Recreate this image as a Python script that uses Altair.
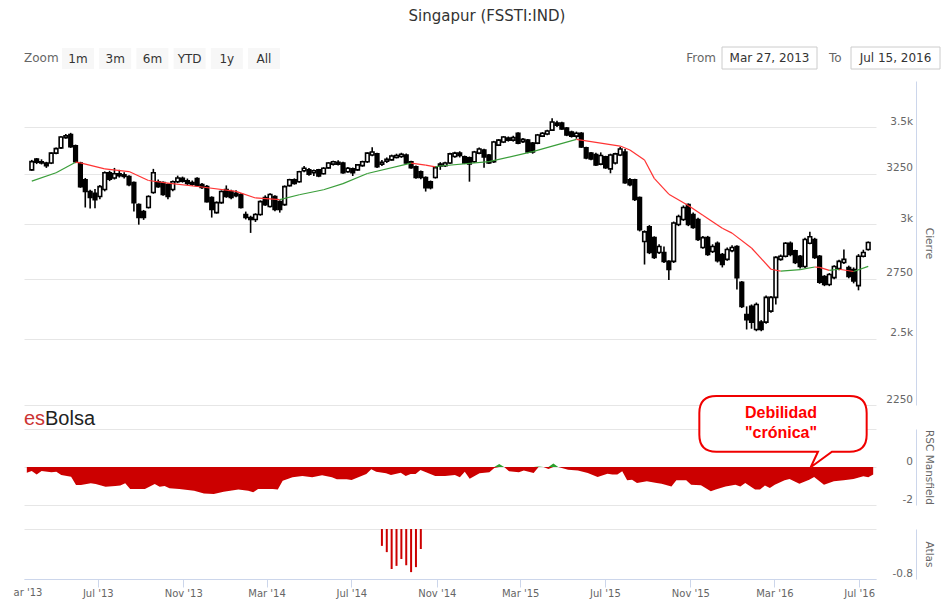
import altair as alt
import pandas as pd

TITLE = "Singapur (FSSTI:IND)"
FIRST_WEEK = "2013-03-28"

OPEN = [3270,3327,3312,3305,3306,3358,3386,3442,3458,3398,
3306,3219,3159,3150,3134,3169,3255,3228,3250,3244,
3235,3204,3094,3060,3080,3154,3209,3204,3194,3169,
3209,3226,3214,3205,3225,3194,3184,3129,3055,3104,
3169,3159,3150,3144,3046,3031,3022,3046,3129,3085,
3134,3109,3094,3189,3219,3209,3265,3270,3255,3270,
3250,3280,3300,3310,3306,3260,3275,3270,3292,3312,
3348,3354,3300,3315,3322,3335,3340,3348,3312,3286,
3260,3230,3209,3230,3290,3292,3306,3340,3358,3338,
3333,3312,3358,3375,3348,3312,3401,3418,3440,3428,
3466,3420,3428,3412,3412,3450,3462,3483,3522,3522,
3494,3472,3450,3466,3386,3358,3350,3300,3338,3275,
3306,3348,3364,3219,3219,3129,2918,2987,2936,2867,
2867,2827,2827,2998,3022,3094,3046,3022,2890,2936,
2872,2910,2858,2836,2875,2895,2735,2598,2632,2537,
2567,2567,2612,2670,2836,2850,2910,2875,2850,2804,
2910,2927,2850,2760,2725,2755,2795,2822,2800,2791,
2720,2850,2881]

HIGH = [3322,3332,3325,3312,3362,3388,3450,3462,3468,3404,
3312,3228,3168,3172,3192,3262,3265,3280,3270,3258,
3242,3210,3100,3068,3140,3275,3220,3210,3200,3215,
3240,3235,3225,3215,3232,3202,3192,3135,3110,3165,
3190,3168,3165,3150,3060,3040,3052,3115,3140,3150,
3140,3115,3190,3224,3226,3265,3290,3280,3272,3275,
3284,3310,3318,3320,3312,3285,3282,3300,3318,3362,
3390,3360,3322,3335,3350,3355,3360,3356,3318,3292,
3266,3236,3215,3288,3310,3312,3360,3365,3368,3345,
3340,3370,3388,3382,3354,3424,3434,3450,3448,3452,
3472,3440,3434,3418,3462,3472,3485,3550,3535,3530,
3500,3480,3475,3472,3392,3364,3360,3362,3344,3355,
3360,3392,3380,3228,3224,3134,2970,2995,2942,2905,
2895,2832,3012,3045,3090,3100,3055,3030,2944,2944,
2905,2918,2865,2890,2900,2900,2740,2632,2640,2648,
2575,2678,2676,2850,2858,2915,2918,2880,2856,2935,
2963,2935,2856,2766,2775,2810,2835,2881,2808,2800,
2860,2880,2918]

LOW = [3265,3300,3298,3280,3300,3352,3380,3436,3386,3305,
3178,3080,3075,3076,3120,3160,3212,3220,3230,3225,
3186,3060,2997,3020,3075,3148,3178,3138,3120,3160,
3202,3204,3192,3188,3185,3172,3104,3031,3050,3098,
3128,3120,3130,3075,3022,2958,3010,3040,3088,3080,
3062,3055,3088,3184,3194,3204,3258,3240,3238,3232,
3246,3276,3292,3292,3250,3255,3238,3265,3286,3306,
3342,3280,3290,3306,3318,3330,3333,3300,3275,3224,
3222,3159,3170,3225,3270,3285,3300,3333,3335,3300,
3209,3306,3352,3281,3300,3306,3396,3412,3420,3420,
3406,3412,3358,3355,3406,3445,3455,3478,3500,3485,
3450,3442,3436,3386,3326,3320,3290,3294,3275,3252,
3298,3342,3198,3186,3112,2965,2813,2860,2838,2860,
2820,2745,2820,2990,3015,2990,2978,2920,2884,2852,
2865,2822,2800,2830,2868,2703,2625,2537,2540,2530,
2530,2560,2605,2640,2830,2845,2850,2815,2795,2798,
2905,2838,2728,2718,2718,2748,2788,2815,2752,2730,
2700,2845,2876]

CLOSE = [3313,3310,3306,3292,3358,3382,3445,3452,3392,3312,
3184,3160,3130,3118,3184,3255,3222,3250,3240,3236,
3194,3104,3031,3031,3134,3255,3184,3144,3134,3209,
3228,3212,3200,3196,3190,3180,3109,3070,3104,3159,
3134,3129,3138,3080,3031,3022,3046,3109,3094,3144,
3070,3070,3184,3219,3200,3260,3278,3248,3265,3238,
3278,3306,3312,3300,3255,3278,3255,3296,3312,3358,
3364,3286,3310,3325,3343,3345,3352,3306,3281,3230,
3230,3179,3179,3281,3300,3306,3354,3358,3345,3306,
3301,3364,3380,3338,3306,3418,3428,3445,3428,3442,
3412,3432,3364,3364,3456,3466,3478,3528,3510,3490,
3456,3450,3466,3391,3333,3327,3296,3345,3281,3348,
3354,3380,3204,3194,3119,2973,2963,2867,2845,2895,
2827,2791,3005,3036,3080,2998,2984,2927,2936,2858,
2895,2830,2813,2881,2890,2755,2632,2577,2567,2640,
2537,2670,2670,2845,2850,2910,2858,2822,2804,2927,
2940,2845,2735,2725,2769,2804,2827,2836,2760,2740,
2850,2867,2913]

MA_WEEK = [0,5,9,10,15,20,24,28,35,42,46,51,55,60,64,69,78,81,83,84,
           94,103,112,121,123,126,128,131,135,138,142,144,148,152,154,158,161,162,164,166,
           169,172]
MA_VALUE = [3212,3255,3310,3306,3275,3261,3215,3202,3182,3160,3127,3119,3143,3168,3199,3251,3305,3295,3285,3290,
            3313,3366,3432,3396,3375,3322,3226,3146,3090,3042,2980,2957,2888,2792,2784,2790,2802,2800,2787,2792,
            2782,2805]

RSC_WEEK = [0,1,2,3,5,6,7,9,10,11,13,14,16,18,19,20,21,24,26,27,
            28,29,31,34,36,38,40,43,45,46,47,50,51,52,54,56,58,60,62,63,
            65,66,68,69,70,71,73,74,76,77,78,79,80,83,85,87,88,89,90,92,
            94,95,96,97,98,100,101,103,104,105,106,107,108,110,112,114,116,118,119,120,
            121,122,123,124,126,128,129,131,132,134,135,137,139,140,142,144,145,146,148,149,
            150,151,152,154,155,157,159,160,162,164,166,168,170,171,172]
RSC_VALUE = [-0.30,-0.21,-0.39,-0.21,-0.28,-0.25,-0.42,-0.51,-0.95,-0.95,
             -0.86,-0.89,-1.04,-1.00,-0.98,-0.86,-1.16,-1.16,-0.89,-1.04,
             -1.00,-1.12,-1.16,-1.25,-1.39,-1.42,-1.30,-1.18,-1.25,-1.33,
             -1.16,-1.16,-1.18,-0.72,-0.54,-0.47,-0.54,-0.44,-0.54,-0.65,
             -0.65,-0.68,-0.47,-0.37,-0.12,-0.25,-0.33,-0.42,-0.30,-0.47,
             -0.37,-0.37,-0.16,-0.47,-0.47,-0.42,-0.54,-0.25,-0.62,-0.33,
             -0.28,-0.05,0.16,0.0,-0.23,-0.28,-0.18,-0.32,0.03,0.0,
             -0.10,0.19,0.0,-0.14,-0.18,-0.32,-0.53,-0.35,-0.40,-0.40,
             -0.23,-0.70,-0.67,-0.84,-0.75,-0.84,-0.88,-1.02,-0.70,-0.70,
             -0.93,-0.96,-1.28,-1.19,-1.02,-0.93,-1.02,-0.84,-1.19,-1.19,
             -0.98,-1.10,-0.93,-0.70,-0.63,-0.88,-0.67,-0.53,-0.93,-0.75,
             -0.70,-0.63,-0.49,-0.54,-0.40]

ATLAS_WEEK = [72,73,74,75,76,77,78,79,80]
ATLAS_VALUE = [-0.27,-0.37,-0.64,-0.59,-0.48,-0.58,-0.69,-0.61,-0.32]

PRICE_TICKS = [2250, 2500, 2750, 3000, 3250, 3500]
PRICE_LABELS = ["2250", "2.5k", "2750", "3k", "3250", "3.5k"]
RSC_TICKS = [-2, 0, 2]
RSC_LABELS = ["-2", "0", ""]
ATLAS_TICKS = [-0.8, 0]
ATLAS_LABELS = ["-0.8", ""]
MONTH_TICKS = [(2013,7),(2013,11),(2014,3),(2014,7),(2014,11),(2015,3),(2015,7),(2015,11),(2016,3),(2016,7)]
FIRST_LABEL = "ar '13"
ZOOM_BUTTONS = ["1m", "3m", "6m", "YTD", "1y", "All"]
FROM_DATE = "Mar 27, 2013"
TO_DATE = "Jul 15, 2016"
CALLOUT = ["Debilidad", "\"crónica\""]

FONT = "DejaVu Sans"
GREEN = "#3a9e3a"
RED = "#ff3333"
DARKRED = "#cc0000"
AXISLINE = "#ccd6eb"
GRID = "#e6e6e6"
W = 852

weeks = pd.date_range(FIRST_WEEK, periods=len(CLOSE), freq="7D")
week_str = [d.strftime("%Y-%m-%dT00:00:00") for d in weeks]

candles = pd.DataFrame({"date": week_str, "open": OPEN, "high": HIGH, "low": LOW, "close": CLOSE})
up = candles[candles["close"] >= candles["open"]]
down = candles[candles["close"] < candles["open"]]

ma = pd.DataFrame({"date": [week_str[k] for k in MA_WEEK], "v": MA_VALUE})
seg = pd.DataFrame({
    "date": ma["date"].iloc[:-1].values,
    "date2": ma["date"].iloc[1:].values,
    "v": ma["v"].iloc[:-1].values,
    "v2": ma["v"].iloc[1:].values,
})
seg["dir"] = ["up" if b >= a else "down" for a, b in zip(seg["v"], seg["v2"])]

rsc = pd.DataFrame({"date": [week_str[k] for k in RSC_WEEK], "v": RSC_VALUE})
rsc["neg"] = rsc["v"].clip(upper=0)
rsc["pos"] = rsc["v"].clip(lower=0)
rsc["zero"] = 0.0

atlas = pd.DataFrame({"date": [week_str[k] for k in ATLAS_WEEK], "v": ATLAS_VALUE})
atlas["zero"] = 0.0

one = pd.DataFrame({"d": [0]})


def label_expr(vals, labels):
    return " : ".join(f"datum.value == {v} ? '{l}'" for v, l in zip(vals, labels)) + " : ''"


def right_axis(title, vals, labels, title_y):
    return alt.Axis(orient="right", offset=40, values=vals, labelExpr=label_expr(vals, labels),
                    title=title, ticks=False, tickSize=0, labelAlign="right", labelPadding=-3.5,
                    labelOffset=-6, domainColor=AXISLINE, domainWidth=1, grid=True, gridColor=GRID,
                    gridWidth=1, labelFont=FONT, labelFontSize=10.5, labelColor="#666666",
                    titleFont=FONT, titleFontSize=10.5, titleColor="#666666", titleFontWeight="normal",
                    titleX=12.5, titleY=title_y, titleAngle=90, titleAlign="center",
                    titleBaseline="middle")


xscale = alt.Scale(domain=[alt.DateTime(year=2013, month=3, date=24),
                           alt.DateTime(year=2016, month=7, date=18)])
X = alt.X("date:T", scale=xscale, axis=None)


def txt(s, x, y, size=12, color="#333333", align="center", font=FONT, weight="normal",
        baseline="middle"):
    return alt.Chart(one).mark_text(text=s, fontSize=size, color=color, align=align, font=font,
                                    fontWeight=weight, baseline=baseline).encode(
        x=alt.value(x), y=alt.value(y))


def box(x1, x2, y1, y2, fill, stroke=None):
    kw = dict(fill=fill, opacity=1)
    if stroke:
        kw.update(stroke=stroke, strokeWidth=1)
    return alt.Chart(one).mark_rect(**kw).encode(
        x=alt.value(x1), x2=alt.value(x2), y=alt.value(y1), y2=alt.value(y2))


# ---------- main panel ----------
MAIN_H = 324
pscale = alt.Scale(type="log", domain=[2250, 3766], nice=False, zero=False)
paxis = right_axis("Cierre", PRICE_TICKS, PRICE_LABELS, MAIN_H / 2)

# transparent frame that fixes the overall page extent (933 x 594 px)
bg = alt.Chart(one).mark_rect(color="white", opacity=0).encode(
    x=alt.value(-16), x2=alt.value(917), y=alt.value(-73), y2=alt.value(521))

ui = [txt(TITLE, 463, -65.5, size=15, color="#333333"),
      txt("Zoom", 0, -23, color="#666666", align="left")]
for i, b in enumerate(ZOOM_BUTTONS):
    bx = 38 + 37.2 * i
    ui.append(box(bx, bx + 32, -33, -12, "#f7f7f7"))
    ui.append(txt(b, bx + 16, -22.5, color="#333333"))
ui += [txt("From", 692, -23, color="#666666", align="right"),
       box(698, 793, -34, -12, "white", "#cccccc"),
       txt(FROM_DATE, 745.5, -23, color="#333333"),
       txt("To", 805, -23, color="#666666", align="left"),
       box(827, 916, -34, -12, "white", "#cccccc"),
       txt(TO_DATE, 871.5, -23, color="#333333")]

wick = alt.Chart(candles).mark_rule(color="black", strokeWidth=1.6).encode(
    x=X, y=alt.Y("low:Q", scale=pscale, axis=paxis), y2="high:Q")
body_up = alt.Chart(up).mark_bar(size=3.6, fill="white", stroke="black", strokeWidth=1.6,
                                 opacity=1).encode(
    x=X, y=alt.Y("open:Q", scale=pscale, axis=paxis), y2="close:Q")
body_down = alt.Chart(down).mark_bar(size=3.6, fill="black", stroke="black", strokeWidth=1.6,
                                     opacity=1).encode(
    x=X, y=alt.Y("open:Q", scale=pscale, axis=paxis), y2="close:Q")
ma_line = alt.Chart(seg).mark_rule(strokeWidth=1.2).encode(
    x=X, x2="date2:T", y=alt.Y("v:Q", scale=pscale, axis=paxis), y2="v2:Q",
    color=alt.Color("dir:N", scale=alt.Scale(domain=["up", "down"], range=[GREEN, RED]),
                    legend=None))

main = alt.layer(bg, *ui, wick, body_down, body_up, ma_line).properties(width=W, height=MAIN_H)

# ---------- RSC Mansfield panel ----------
RSC_H = 76
rscale = alt.Scale(domain=[-2, 2], nice=False, zero=False)
raxis = right_axis("RSC Mansfield", RSC_TICKS, RSC_LABELS, RSC_H / 2)
red_area = alt.Chart(rsc).mark_area(color=DARKRED, opacity=1).encode(
    x=X, y=alt.Y("neg:Q", scale=rscale, axis=raxis), y2="zero:Q")
green_area = alt.Chart(rsc).mark_area(color="#2ca02c", opacity=1).encode(
    x=X, y=alt.Y("pos:Q", scale=rscale, axis=raxis), y2="zero:Q")

BUBBLE = ("M -0.797,-0.334 L 0.797,-0.334 Q 1,-0.334 1,-0.131 L 1,0.128 Q 1,0.331 0.797,0.331 "
          "L 0.585,0.331 L 0.331,0.517 L 0.418,0.331 L -0.797,0.331 Q -1,0.331 -1,0.128 "
          "L -1,-0.131 Q -1,-0.334 -0.797,-0.334 Z")
bubble = alt.Chart(one).mark_point(shape=BUBBLE, size=28000, filled=True, fill="white",
                                   stroke="#f00000", strokeWidth=2, opacity=1).encode(
    x=alt.value(759), y=alt.value(-5))
rsc_ann = [
    txt("es", 21, -4, size=20, color="#cc3333", align="right", font="Liberation Sans",
        baseline="alphabetic"),
    txt("Bolsa", 21, -4, size=20, color="#222222", align="left", font="Liberation Sans",
        baseline="alphabetic"),
    bubble,
    txt(CALLOUT[0], 757, -16, size=16, color="#ff0000", font="Liberation Sans", weight="bold"),
    txt(CALLOUT[1], 757, 4, size=16, color="#ff0000", font="Liberation Sans", weight="bold"),
]
rsc_chart = alt.layer(red_area, green_area, *rsc_ann).properties(width=W, height=RSC_H)

# ---------- Atlas panel ----------
ATLAS_H = 50
ascale = alt.Scale(domain=[-0.8, 0], nice=False, zero=False)
aaxis = right_axis("Atlas", ATLAS_TICKS, ATLAS_LABELS, 25)
xaxis = alt.Axis(orient="bottom", values=[alt.DateTime(year=y, month=m, date=1) for y, m in MONTH_TICKS],
                 format="%b '%y", formatType="time", title=None, grid=False, domainColor=AXISLINE,
                 tickColor=AXISLINE, tickSize=8, labelPadding=1, labelFlush=False,
                 labelFont=FONT, labelFontSize=10, labelColor="#666666", labelBaseline="top")
bars = alt.Chart(atlas).mark_bar(size=2, color=DARKRED, opacity=1).encode(
    x=alt.X("date:T", scale=xscale, axis=xaxis),
    y=alt.Y("v:Q", scale=ascale, axis=aaxis), y2="zero:Q")
first_lbl = txt(FIRST_LABEL, 4, 59, size=10, color="#666666", baseline="top")
atlas_chart = alt.layer(bars, first_lbl).properties(width=W, height=ATLAS_H)

chart = alt.vconcat(main, rsc_chart, atlas_chart, spacing=24, bounds="flush", padding=0,
                    background="white").configure_view(stroke=None)

chart.save("out.html", embed_options={"renderer": "svg", "actions": False})
